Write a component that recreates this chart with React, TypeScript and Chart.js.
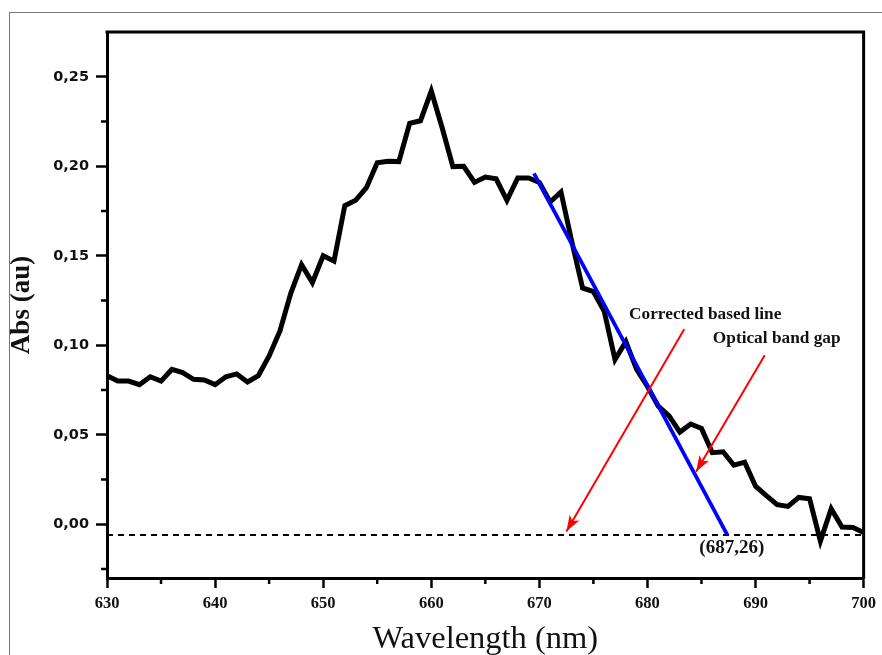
import React, { useEffect, useRef } from 'react';
import { Chart, registerables } from 'chart.js';

Chart.register(...registerables);

// ---- data ----
const wavelengths = [
  630, 631, 632, 633, 634, 635, 636, 637, 638, 639,
  640, 641, 642, 643, 644, 645, 646, 647, 648, 649,
  650, 651, 652, 653, 654, 655, 656, 657, 658, 659,
  660, 661, 662, 663, 664, 665, 666, 667, 668, 669,
  670, 671, 672, 673, 674, 675, 676, 677, 678, 679,
  680, 681, 682, 683, 684, 685, 686, 687, 688, 689,
  690, 691, 692, 693, 694, 695, 696, 697, 698, 699,
  700,
];
const absorbance = [
  0.083, 0.080, 0.080, 0.078, 0.0824, 0.080, 0.0865, 0.0847, 0.081, 0.0806,
  0.078, 0.0824, 0.084, 0.0795, 0.083, 0.094, 0.108, 0.129, 0.145, 0.135,
  0.150, 0.147, 0.178, 0.181, 0.188, 0.202, 0.2028, 0.2026, 0.224, 0.2254,
  0.242, 0.2217, 0.1998, 0.200, 0.191, 0.194, 0.193, 0.181, 0.1935, 0.1935,
  0.191, 0.180, 0.1856, 0.158, 0.132, 0.130, 0.119, 0.092, 0.102, 0.0865,
  0.077, 0.066, 0.0606, 0.0515, 0.056, 0.0535, 0.040, 0.0405, 0.033, 0.0347,
  0.0213, 0.016, 0.011, 0.010, 0.015, 0.0143, -0.0094, 0.0087, -0.0015, -0.0018,
  -0.0046,
];
const baselineX = [630, 700];
const baselineY = [-0.006, -0.006];
const tangentX = [669.5, 687.4];
const tangentY = [0.196, -0.006];
const arrowBaseX = [683.4, 672.5];
const arrowBaseY = [0.109, -0.004];
const arrowGapX = [690.85, 684.5];
const arrowGapY = [0.0944, 0.0294];

const xMajorTicks = [630, 640, 650, 660, 670, 680, 690, 700];
const xMinorTicks = [635, 645, 655, 665, 675, 685, 695];
const yMajorTicks = [0, 0.05, 0.1, 0.15, 0.2, 0.25];
const yMinorTicks = [-0.025, 0.025, 0.075, 0.125, 0.175, 0.225];

const noteLabels = ['Corrected based line', 'Optical band gap', '(687,26)'];
const noteX = [678.3, 686.05, 687.8];
const noteY = [0.117, 0.1037, -0.0135];
const noteAlign = ['left', 'left', 'center'];

const SERIF = '"Liberation Serif", "Times New Roman", serif';

const pairs = (xs: number[], ys: number[]) => xs.map((x, i) => ({ x, y: ys[i] }));

const decorPlugin = {
  id: 'decor',
  afterDatasetsDraw(chart: any) {
    const ctx = chart.ctx;
    chart.data.datasets.forEach((ds: any, i: number) => {
      if (!ds.arrowHead) return;
      const meta = chart.getDatasetMeta(i);
      const p0 = meta.data[0];
      const p1 = meta.data[meta.data.length - 1];
      const a = Math.atan2(p1.y - p0.y, p1.x - p0.x);
      const L = 16;
      const W = 5.5;
      const c = Math.cos(a);
      const s = Math.sin(a);
      ctx.save();
      ctx.fillStyle = ds.borderColor;
      ctx.beginPath();
      ctx.moveTo(p1.x, p1.y);
      ctx.lineTo(p1.x - L * c + W * s, p1.y - L * s - W * c);
      ctx.lineTo(p1.x - L * c * 0.75, p1.y - L * s * 0.75);
      ctx.lineTo(p1.x - L * c - W * s, p1.y - L * s + W * c);
      ctx.closePath();
      ctx.fill();
      ctx.restore();
    });
  },
  afterDraw(chart: any) {
    const ctx = chart.ctx;
    const { left, right, top, bottom } = chart.chartArea;
    const xs = chart.scales.x;
    const ys = chart.scales.y;
    ctx.save();
    // top and right frame of the plot box
    ctx.strokeStyle = '#000';
    ctx.lineWidth = 3;
    ctx.beginPath();
    ctx.moveTo(left - 1.5, top);
    ctx.lineTo(right, top);
    ctx.lineTo(right, bottom + 1.5);
    ctx.stroke();
    // minor ticks
    ctx.lineWidth = 2.5;
    ctx.beginPath();
    xMinorTicks.forEach((v) => {
      const px = xs.getPixelForValue(v);
      ctx.moveTo(px, bottom);
      ctx.lineTo(px, bottom + 6);
    });
    yMinorTicks.forEach((v) => {
      const py = ys.getPixelForValue(v);
      ctx.moveTo(left, py);
      ctx.lineTo(left - 6, py);
    });
    ctx.stroke();
    // annotations
    ctx.fillStyle = '#111';
    ctx.textBaseline = 'middle';
    noteLabels.forEach((t, i) => {
      ctx.font = i === 2 ? `bold 19px ${SERIF}` : `bold 17.3px ${SERIF}`;
      ctx.textAlign = noteAlign[i];
      ctx.fillText(t, xs.getPixelForValue(noteX[i]), ys.getPixelForValue(noteY[i]));
    });
    ctx.restore();
  },
};

export default function App() {
  const ref = useRef<HTMLCanvasElement>(null);
  useEffect(() => {
    document.body.style.margin = '0';
    const chart = new Chart(ref.current as HTMLCanvasElement, {
      type: 'line',
      data: {
        datasets: [
          {
            label: 'arrow1',
            data: pairs(arrowBaseX, arrowBaseY),
            borderColor: '#ff0000',
            borderWidth: 2,
            pointRadius: 0,
            order: 0,
            arrowHead: true,
          } as any,
          {
            label: 'arrow2',
            data: pairs(arrowGapX, arrowGapY),
            borderColor: '#ff0000',
            borderWidth: 2,
            pointRadius: 0,
            order: 0,
            arrowHead: true,
          } as any,
          {
            label: 'tangent',
            data: pairs(tangentX, tangentY),
            borderColor: '#0000ff',
            borderWidth: 3.8,
            pointRadius: 0,
            order: 1,
          },
          {
            label: 'Abs',
            data: pairs(wavelengths, absorbance),
            borderColor: '#000',
            borderWidth: 5,
            borderJoinStyle: 'miter',
            pointRadius: 0,
            tension: 0,
            order: 2,
          },
          {
            label: 'baseline',
            data: pairs(baselineX, baselineY),
            borderColor: '#000',
            borderWidth: 2,
            borderDash: [6, 5],
            pointRadius: 0,
            order: 3,
          },
        ],
      },
      options: {
        responsive: false,
        animation: false,
        events: [],
        layout: { padding: { left: 0, top: 32, right: 18, bottom: 0 } },
        plugins: {
          legend: { display: false },
          tooltip: { enabled: false },
          title: { display: false },
        },
        scales: {
          x: {
            type: 'linear',
            min: 630,
            max: 700,
            afterFit: (s: any) => {
              s.height = 77;
            },
            afterBuildTicks: (s: any) => {
              s.ticks = xMajorTicks.map((v) => ({ value: v }));
            },
            border: { display: true, color: '#000', width: 3 },
            grid: {
              display: true,
              drawOnChartArea: false,
              drawTicks: true,
              tickLength: 10,
              tickWidth: 2.5,
              tickColor: '#000',
              color: '#000',
            },
            ticks: {
              autoSkip: false,
              maxRotation: 0,
              padding: 6,
              color: '#111',
              font: { family: SERIF, size: 16.5, weight: 'bold' },
              callback: (v: any) => String(v),
            },
            title: {
              display: true,
              text: 'Wavelength (nm)',
              color: '#111',
              font: { family: SERIF, size: 32.5, weight: 'normal', lineHeight: 0.95 },
              padding: { top: 0, bottom: 0 },
            },
          },
          y: {
            type: 'linear',
            min: -0.03,
            max: 0.275,
            afterFit: (s: any) => {
              s.width = 107;
            },
            afterBuildTicks: (s: any) => {
              s.ticks = yMajorTicks.map((v) => ({ value: v }));
            },
            border: { display: true, color: '#000', width: 3 },
            grid: {
              display: true,
              drawOnChartArea: false,
              drawTicks: true,
              tickLength: 11,
              tickWidth: 2.5,
              tickColor: '#000',
              color: '#000',
            },
            ticks: {
              autoSkip: false,
              padding: 7,
              color: '#111',
              font: { family: '"DejaVu Sans", sans-serif', size: 14.5, weight: 'bold' },
              callback: (v: any) => Number(v).toFixed(2).replace('.', ','),
            },
            title: {
              display: true,
              text: 'Abs (au)',
              color: '#111',
              font: { family: SERIF, size: 27, weight: 'bold', lineHeight: 1.2 },
              padding: { top: 6, bottom: 0 },
            },
          },
        },
      } as any,
      plugins: [decorPlugin],
    });
    return () => chart.destroy();
  }, []);

  return (
    <div style={{ position: 'relative', width: 882, height: 655, overflow: 'hidden', background: '#fff' }}>
      <div
        style={{
          position: 'absolute',
          left: 9,
          top: 12,
          width: 900,
          height: 700,
          borderTop: '1px solid #777',
          borderLeft: '1px solid #777',
        }}
      />
      <canvas ref={ref} width={882} height={655} style={{ position: 'absolute', left: 0, top: 0 }} />
    </div>
  );
}
